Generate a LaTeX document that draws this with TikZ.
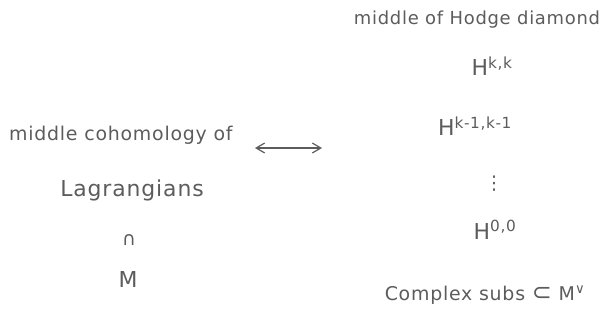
\documentclass[tikz,border=0pt]{standalone}
\usepackage{fontspec}
\usepackage{xcolor}
\usepackage{tikz}
\usetikzlibrary{
  arrows.meta,
  positioning,
  calc
}
\newfontfamily\handfont[LetterSpace=4]{DejaVu Sans}
\definecolor{pencil}{HTML}{5C5C5C}
\tikzset{
  hand/.style={
    text=pencil, font=\handfont\fontsize{19}{22}\selectfont, inner sep=1pt
  },
  handsmall/.style={hand, font=\handfont\fontsize{18}{21}\selectfont},
  handbig/.style={hand, font=\handfont\fontsize{22}{26}\selectfont},
  corresp/.style={{Straight Barb[length=3mm,width=3.5mm]}-{Straight Barb[length=3mm,width=3.5mm]}, pencil, line width=1.2bp}
}

\begin{document}
\begin{tikzpicture}[x=1bp, y=-1bp]
  \useasboundingbox (0,0) rectangle (607,328);
  % left side
  \node[hand, anchor=west] (cohom) at (8,135) {middle cohomology of};
  \node[handbig] (lagr) at (132,190) {Lagrangians};
  \node[hand] (cap) at (129,240) {∩};
  \node[handbig] (mfd) at (128,280) {M};
  \coordinate (arrL) at (255,148);
  \coordinate (arrR) at (322,148);
  \draw[corresp] (arrL) -- (arrR);
  % right side
  \node[handsmall] (title) at (477,20) {middle of Hodge diamond};
  \node[handbig] (hkk) at (492,66) {H\textsuperscript{k,k}};
  \node[handbig] (hkm) at (475,126) {H\textsuperscript{k-1,k-1}};
  \node[hand] (vdots) at (494,184) {⋮};
  \node[handbig] (hoo) at (495,230) {H\textsuperscript{0,0}};
  \node[hand] (subs) at (485,295) {Complex subs {\fontsize{24}{26}\selectfont⊂} M\textsuperscript{∨}};
\end{tikzpicture}
\end{document}
